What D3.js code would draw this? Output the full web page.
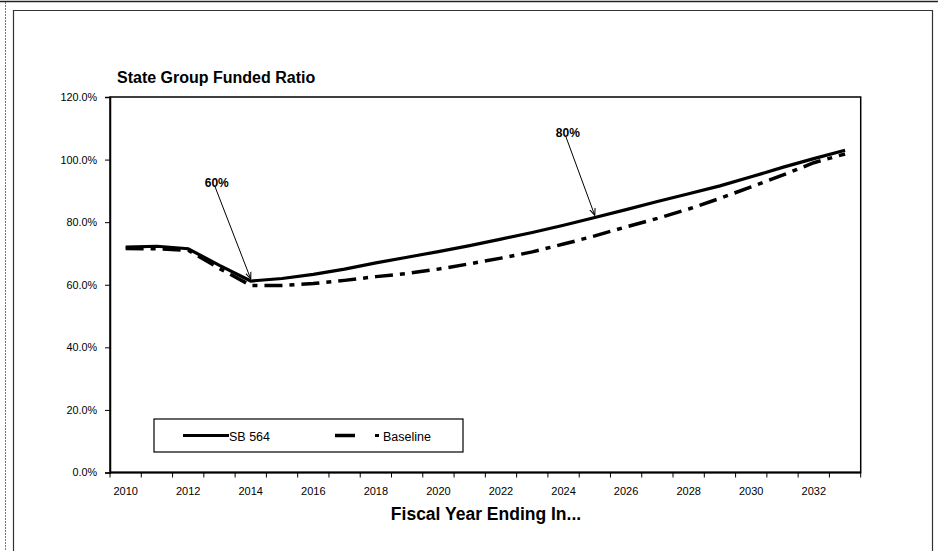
<!DOCTYPE html>
<html>
<head>
<meta charset="utf-8">
<script src="https://d3js.org/d3.v7.min.js"></script>
<style>
  body { margin: 0; background: #fff; }
  svg { font-family: Arial, "Liberation Sans", sans-serif; }
  .tick text { font-size: 10.8px; fill: #000; }
  .axis path, .axis line { stroke: #000; }
</style>
</head>
<body>
<script>
// chart data
var years = d3.range(2010, 2034);
var sb564 = [72, 72.3, 71.5, 66.2, 61.2, 62, 63.3, 65, 67, 68.8, 70.6, 72.5, 74.6, 76.7, 79,
             81.5, 84, 86.6, 89.1, 91.6, 94.5, 97.5, 100.3, 103];
var baseline = [71.6, 71.5, 71, 65.2, 59.8, 59.8, 60.4, 61.4, 62.6, 63.6, 65, 66.7, 68.5, 70.5, 73,
                75.6, 78.5, 81.2, 84.2, 87.6, 91.3, 95, 99, 101.8];
var yTicks = [0, 20, 40, 60, 80, 100, 120];
var xLabels = years.filter(function(y) { return y % 2 === 0; });
var callouts = [{label: "60%", year: 2014}, {label: "80%", year: 2025}];

var width = 938, height = 551;
var margins = {top: 97, bottom: 78.5, left: 110, right: 77.3};

var svg = d3.select("body").append("svg")
    .attr("width", width)
    .attr("height", height);

// outer frame
svg.append("line").attr("x1", 0).attr("x2", width).attr("y1", 1.5).attr("y2", 1.5)
    .attr("stroke", "#222").attr("stroke-width", 1.5);
svg.append("line").attr("x1", 5.5).attr("x2", 5.5).attr("y1", 2).attr("y2", height)
    .attr("stroke", "#777").attr("stroke-width", 1).attr("stroke-dasharray", "2,1");
svg.append("path").attr("d", "M13.5," + height + "V10.5H932.5V" + height)
    .attr("fill", "none").attr("stroke", "#333").attr("stroke-width", 1.2);

var xScale = d3.scaleBand()
    .domain(years)
    .range([margins.left, width - margins.right])
    .padding(0);
var yScale = d3.scaleLinear()
    .domain([0, 120])
    .range([height - margins.bottom, margins.top]);

var xc = function(y) { return xScale(y) + xScale.bandwidth() / 2; };

// plot frame
svg.append("rect")
    .attr("x", margins.left).attr("y", margins.top)
    .attr("width", width - margins.right - margins.left)
    .attr("height", height - margins.bottom - margins.top)
    .attr("fill", "none").attr("stroke", "#000").attr("stroke-width", 1.5);

// y axis
var yAxis = d3.axisLeft(yScale)
    .tickValues(yTicks)
    .tickSize(5)
    .tickPadding(8)
    .tickFormat(function(d) { return d.toFixed(1) + "%"; });
svg.append("g").attr("class", "axis")
    .attr("transform", "translate(" + margins.left + ",0)")
    .call(yAxis)
    .call(function(g) { g.select(".domain").attr("stroke-width", 1.5); });

// x axis: ticks on band edges, labels every second year
var xAxisG = svg.append("g").attr("class", "axis")
    .attr("transform", "translate(0," + (height - margins.bottom) + ")");
xAxisG.append("line")
    .attr("x1", margins.left).attr("x2", width - margins.right)
    .attr("stroke", "#000").attr("stroke-width", 2);
var edges = years.map(function(y) { return xScale(y); }).concat([width - margins.right]);
xAxisG.selectAll(".edge").data(edges).enter().append("line")
    .attr("class", "edge")
    .attr("x1", function(d) { return d; }).attr("x2", function(d) { return d; })
    .attr("y1", 0).attr("y2", 5)
    .attr("stroke", "#000");
xAxisG.selectAll(".xl").data(xLabels).enter().append("text")
    .attr("class", "xl")
    .attr("x", function(d) { return xc(d); })
    .attr("y", 22)
    .attr("text-anchor", "middle")
    .attr("font-size", "11px")
    .text(function(d) { return d; });

// lines
var line = function(vals) {
    return d3.line()
        .x(function(d, i) { return xc(years[i]); })
        .y(function(d) { return yScale(d); })(vals);
};
svg.append("path")
    .attr("d", line(baseline))
    .attr("fill", "none").attr("stroke", "#000").attr("stroke-width", 3.5)
    .attr("stroke-dasharray", "18,7,5,7");
svg.append("path")
    .attr("d", line(sb564))
    .attr("fill", "none").attr("stroke", "#000").attr("stroke-width", 3.2);

// callouts with arrows
svg.append("defs").append("marker")
    .attr("id", "arr").attr("viewBox", "0 0 10 10")
    .attr("refX", 10).attr("refY", 5)
    .attr("markerWidth", 7).attr("markerHeight", 7)
    .attr("orient", "auto")
    .append("path").attr("d", "M0,1L10,5L0,9").attr("fill", "none").attr("stroke", "#000").attr("stroke-width", 1.5);

var offs = [{dx: -36, dy: -95}, {dx: -29, dy: -81}];
callouts.forEach(function(c, i) {
    var idx = years.indexOf(c.year);
    var tx = xc(c.year), ty = yScale(sb564[idx]);
    var sx = tx + offs[i].dx, sy = ty + offs[i].dy;
    svg.append("line")
        .attr("x1", sx).attr("y1", sy).attr("x2", tx).attr("y2", ty - 2)
        .attr("stroke", "#000").attr("stroke-width", 1)
        .attr("marker-end", "url(#arr)");
    svg.append("text")
        .attr("x", sx - 10).attr("y", sy + 1)
        .attr("font-size", "12px").attr("font-weight", "bold")
        .text(c.label);
});

// legend
var lg = svg.append("g").attr("transform", "translate(154,419)");
lg.append("rect").attr("width", 309).attr("height", 33)
    .attr("fill", "#fff").attr("stroke", "#000").attr("stroke-width", 1.2);
lg.append("line").attr("x1", 29).attr("x2", 75).attr("y1", 16.5).attr("y2", 16.5)
    .attr("stroke", "#000").attr("stroke-width", 3);
lg.append("text").attr("x", 75).attr("y", 21.5).attr("font-size", "12.5px").text("SB 564");
lg.append("line").attr("x1", 181).attr("x2", 201).attr("y1", 16.5).attr("y2", 16.5)
    .attr("stroke", "#000").attr("stroke-width", 3.5);
lg.append("rect").attr("x", 221).attr("y", 15).attr("width", 4).attr("height", 3).attr("fill", "#000");
lg.append("text").attr("x", 229).attr("y", 21.5).attr("font-size", "12.5px").text("Baseline");

// titles
svg.append("text")
    .attr("x", 117).attr("y", 83)
    .attr("font-size", "16px").attr("font-weight", "bold")
    .text("State Group Funded Ratio");
svg.append("text")
    .attr("x", 486).attr("y", 520)
    .attr("text-anchor", "middle")
    .attr("font-size", "17.5px").attr("font-weight", "bold")
    .text("Fiscal Year Ending In...");
</script>
</body>
</html>
